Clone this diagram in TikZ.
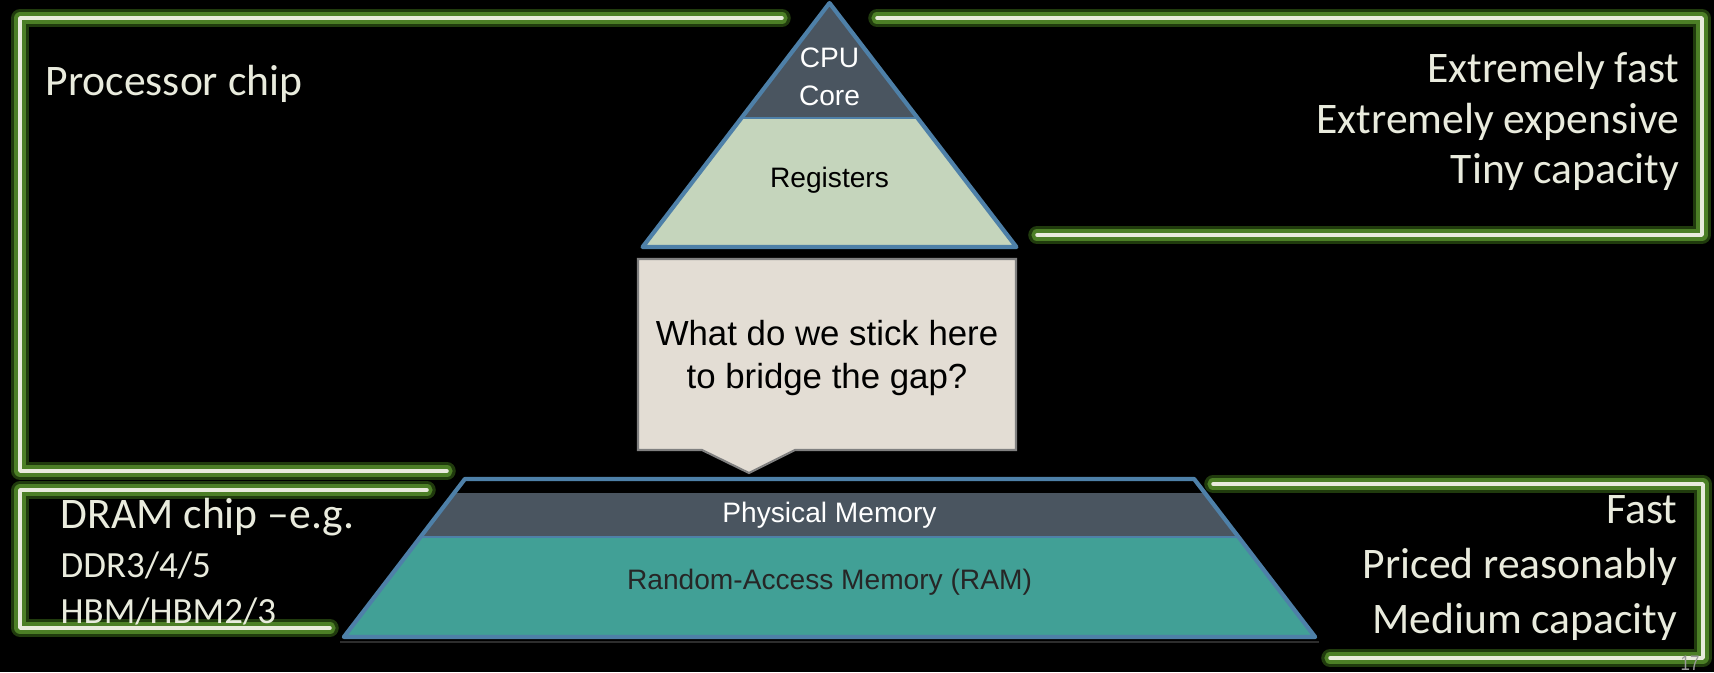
\documentclass[tikz,border=0pt]{standalone}
\usepackage{fontspec}
\setmainfont{Liberation Sans}
\newfontfamily\carlito{Carlito}

\definecolor{cream}{HTML}{E9EBDD}
\definecolor{glowdark}{HTML}{2C4F12}
\definecolor{glowgreen}{HTML}{4C7F26}
\definecolor{edgeblue}{HTML}{4E80A8}
\definecolor{slate}{HTML}{4A5560}
\definecolor{sage}{HTML}{C5D5BC}
\definecolor{ramteal}{HTML}{41A096}
\definecolor{paper}{HTML}{E3DDD4}

\newcommand{\pmid}{829.5}
\newcommand{\neon}[1]{%
  \draw[glowdark, line width=5pt, opacity=0.75, line cap=round, line join=round] #1;
  \draw[glowgreen, line width=3.2pt, line cap=round, line join=round] #1;
  \draw[cream, line width=1pt, line cap=round, line join=round] #1;}

\begin{document}
\begin{tikzpicture}[x=0.01cm, y=-0.01cm,
declare function={
    lx(\h) = \pmid - 0.766*(\h-3);
    rx(\h) = \pmid + 0.766*(\h-3);},
chiptxt/.style={font=\carlito\fontsize{12.4}{15}\selectfont, text=cream, inner sep=0pt},
chipsmall/.style={font=\carlito\fontsize{10.5}{13}\selectfont, text=cream, inner sep=0pt},
layertxt/.style={font=\fontsize{8}{10.8}\selectfont, inner sep=0pt, align=center},
blueedge/.style={edgeblue, line width=1.2pt, line join=round},
]
  \useasboundingbox (0,0) rectangle (1714,672);
  \fill[black] (0,0) rectangle (1714,672);

  % frames
  \neon{(782,18) -- (20,18) -- (20,471) -- (447,471)}
  \neon{(877,18) -- (1702,18) -- (1702,235) -- (1037,235)}
  \neon{(427,490) -- (20,490) -- (20,628) -- (330,628)}
  \neon{(1213,484) -- (1703,484) -- (1703,658) -- (1330,658)}

  %% processor chip
  \node[chiptxt, anchor=base west] (proc) at (45,95) {Processor chip};
  \node[chiptxt, anchor=base east] (xfast) at (1680,82) {Extremely fast};
  \node[chiptxt, anchor=base east] (xcost) at (1680,133) {Extremely expensive};
  \node[chiptxt, anchor=base east] (xcap) at (1680,183) {Tiny capacity};

  %% dram chip
  \node[chiptxt, anchor=base west] (dram) at (60,528) {DRAM chip –e.g.};
  \node[chipsmall, anchor=base west] (ddr) at (60,577) {DDR3/4/5};
  \node[chipsmall, anchor=base west] (hbm) at (60,623) {HBM/HBM2/3};
  \node[chiptxt, anchor=base east] (mfast) at (1678,523) {Fast};
  \node[chiptxt, anchor=base east] (mcost) at (1678,578) {Priced reasonably};
  \node[chiptxt, anchor=base east] (mcap) at (1678,633) {Medium capacity};

  % pyramid
  %% top
  \fill[sage] ({lx(118)},118) -- ({rx(118)},118) -- ({rx(247)},247) -- ({lx(247)},247) -- cycle;
  \fill[slate] (\pmid,3) -- ({rx(118)},118) -- ({lx(118)},118) -- cycle;
  \draw[blueedge, line width=0.5pt] ({lx(118)},118) -- ({rx(118)},118);
  \draw[blueedge] (\pmid,3) -- ({rx(247)},247) -- ({lx(247)},247) -- cycle;
  \node[layertxt, text=white] (core) at (\pmid,77) {CPU\\Core};
  \node[layertxt] (regs) at (\pmid,180) {Registers};

  %% bottom
  \fill[slate] ({lx(493)},493) -- ({rx(493)},493) -- ({rx(537)},537) -- ({lx(537)},537) -- cycle;
  \fill[ramteal] ({lx(537)},537) -- ({rx(537)},537) -- ({rx(637)},637) -- ({lx(637)},637) -- cycle;
  \draw[blueedge, line width=0.5pt] ({lx(537)},537) -- ({rx(537)},537);
  \draw[blueedge] ({lx(479)},479) -- ({rx(479)},479) -- ({rx(637)},637) -- ({lx(637)},637) -- cycle;
  \draw[gray!35!black, line width=0.6pt] ({lx(642)},642) -- ({rx(642)},642);
  \node[layertxt, text=white] (phys) at (\pmid,515) {Physical Memory};
  \node[layertxt, text=black!85] (ram) at (\pmid,582) {Random-Access Memory (RAM)};

  % callout
  \draw[fill=paper, draw=gray, line width=0.6pt] (638,259) -- (1016,259) -- (1016,450)
        -- (795,450) -- (749,473) -- (702,450) -- (638,450) -- cycle;
  \node[font=\fontsize{9.9}{12.2}\selectfont, align=center] (gap) at (827,358)
        {What do we stick here\\to bridge the gap?};

  % page number
  \node[anchor=base, text=gray!80, font=\fontsize{6}{7}\selectfont, inner sep=0pt] (page) at (1690,670)
        {\scalebox{0.8}[1]{17}};
\end{tikzpicture}
\end{document}
